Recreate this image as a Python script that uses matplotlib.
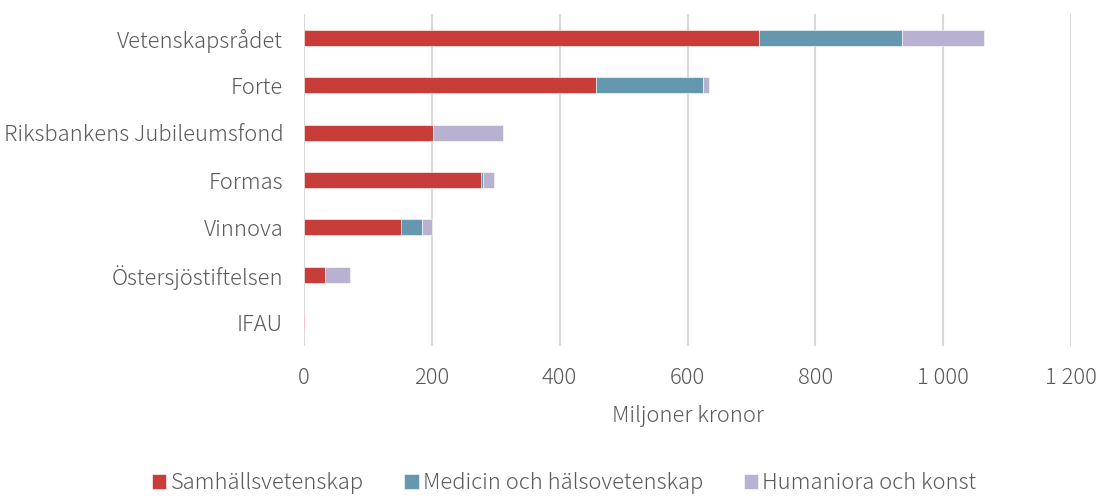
import numpy as np
from matplotlib import pyplot as plt

plt.rcParams['font.family'] = ['Noto Sans CJK JP', 'DejaVu Sans']
plt.rcParams['font.weight'] = 'light'

categories = ["Vetenskapsrådet", "Forte", "Riksbankens Jubileumsfond", "Formas",
              "Vinnova", "Östersjöstiftelsen", "IFAU"]
samhall = [712, 456, 201, 277, 152, 33, 2]
medicin = [224, 168, 0, 3, 32, 0, 0]
humaniora = [128, 10, 110, 17, 16, 39, 0]
series_names = ["Samhällsvetenskap", "Medicin och hälsovetenskap", "Humaniora och konst"]
colors = ["#C83C3A", "#6598AF", "#B8B2D0"]
xticks = [0, 200, 400, 600, 800, 1000, 1200]
xtick_labels = ["0", "200", "400", "600", "800", "1 000", "1 200"]

text_color = "#595959"
fs = 15.8

fig = plt.figure(figsize=(11, 4.96), dpi=100)
ax = fig.add_axes([0.2764, 0.303, 0.6973, 0.668])

y = np.arange(len(categories))
left = np.zeros(len(categories))
for vals, name, col in zip([samhall, medicin, humaniora], series_names, colors):
    ax.barh(y, vals, left=left, height=0.34, color=col, label=name,
            edgecolor="white", linewidth=0.4, zorder=3)
    left += np.array(vals)

ax.set_ylim(len(categories) - 0.5, -0.5)
ax.set_xlim(0, 1200)
ax.set_yticks(y)
ax.set_yticklabels(categories, fontsize=fs, color=text_color)
ax.set_xticks(xticks)
ax.set_xticklabels(xtick_labels, fontsize=fs, color=text_color)
ax.tick_params(length=0)
ax.tick_params(axis="y", pad=15)
ax.tick_params(axis="x", pad=15)
ax.grid(axis="x", color="#D9D9D9", linewidth=1.5, zorder=0)
for s in ax.spines.values():
    s.set_visible(False)
ax.set_xlabel("Miljoner kronor", fontsize=fs, fontweight="light", color=text_color,
              labelpad=12)

handles, labels = ax.get_legend_handles_labels()
fig.legend(handles, labels, loc="lower center", bbox_to_anchor=(0.513, -0.036), ncol=3,
           frameon=False, fontsize=fs, labelcolor=text_color, handlelength=0.65,
           handleheight=0.65, handletextpad=0.2, columnspacing=1.85)

fig.savefig("out.png", dpi=100)
